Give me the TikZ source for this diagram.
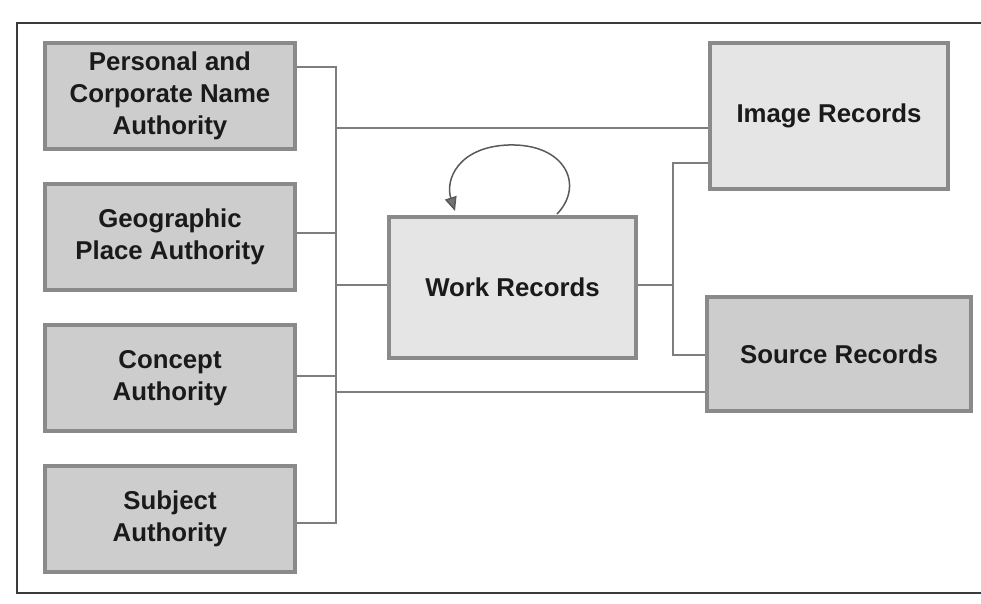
\documentclass[tikz,border=0pt]{standalone}
\usepackage{fontspec}
\setmainfont{Liberation Sans}
\usetikzlibrary{arrows.meta}
\definecolor{boxline}{HTML}{8A8A8A}
\definecolor{darkfill}{HTML}{CDCDCD}
\definecolor{lightfill}{HTML}{E5E5E5}
\definecolor{wire}{HTML}{7E7E7E}
\definecolor{txt}{HTML}{1A1A1A}
\definecolor{frame}{HTML}{3A3A3A}
\tikzset{
  basebox/.style={draw=boxline, line width=4pt, align=center, text=txt,
    font=\fontsize{25.8}{31.8}\selectfont\bfseries, inner sep=0pt},
  authbox/.style={basebox, fill=darkfill, minimum width=250pt, minimum height=106pt},
  recbox/.style={basebox, fill=lightfill},
  wireline/.style={draw=wire, line width=2.2pt},
  loopline/.style={draw=black!65, line width=1.5pt, -{Triangle[length=14pt,width=12pt,fill=black!55]}},
  frameline/.style={draw=frame, line width=2pt}
}
\begin{document}
\begin{tikzpicture}[x=1pt,y=-1pt]
\useasboundingbox (0,0) rectangle (981,603);
% frame
\coordinate (ftr) at (981,23);
\coordinate (ftl) at (17,23);
\coordinate (fbl) at (17,593);
\coordinate (fbr) at (981,593);
\draw[frameline] (ftr) -- (ftl) -- (fbl) -- (fbr);

% authority boxes
\node[authbox] (pc) at (170,96) {Personal and\\Corporate Name\\Authority};
\node[authbox] (geo) at (170,237) {Geographic\\Place Authority};
\node[authbox] (con) at (170,378) {Concept\\Authority};
\node[authbox] (sub) at (170,518.5) {Subject\\Authority};

% record boxes
\node[recbox, minimum width=247pt, minimum height=141pt] (work) at (512.5,287.5) {Work Records};
\node[recbox, minimum width=238pt, minimum height=146pt] (img) at (829,116) {Image Records};
\node[recbox, fill=darkfill, minimum width=264pt, minimum height=114pt] (src) at (839,354) {Source Records};

% left bus
\coordinate (b1) at (336,67);
\coordinate (b2) at (336,233);
\coordinate (b3) at (336,376);
\coordinate (b4) at (336,523);
\coordinate (bi) at (336,128);
\coordinate (bw) at (336,285);
\coordinate (bs) at (336,392);
\draw[wireline] (b1 -| pc.east) -- (b1) -- (b4) -- (b4 -| sub.east);
\draw[wireline] (b2 -| geo.east) -- (b2);
\draw[wireline] (b3 -| con.east) -- (b3);
\draw[wireline] (bi) -- (bi -| img.west);
\draw[wireline] (bw) -- (bw -| work.west);
\draw[wireline] (bs) -- (bs -| src.west);

% right bus
\coordinate (r0) at (673,285);
\coordinate (r1) at (673,163);
\coordinate (r2) at (673,355);
\draw[wireline] (r0 -| work.east) -- (r0);
\draw[wireline] (r1 -| img.west) -- (r1) -- (r2) -- (r2 -| src.west);

% self loop
\coordinate (ls) at (557,214);
\coordinate (le) at (455,211);
\draw[loopline] (ls) .. controls (585,185) and (565,143) .. (508,145)
  .. controls (458,147) and (445,180) .. (le);
\end{tikzpicture}
\end{document}
